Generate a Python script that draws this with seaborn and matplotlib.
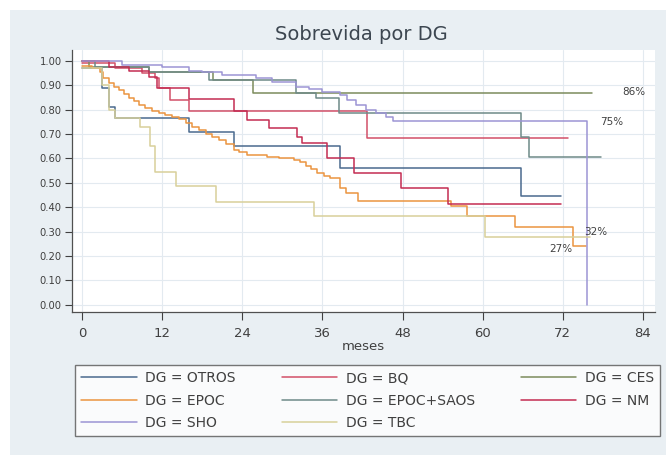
import pandas as pd
import matplotlib.pyplot as plt
import seaborn as sns
from matplotlib.lines import Line2D
from matplotlib.patches import Rectangle

# Kaplan-Meier (escalones): meses / sobrevida
otros_t = [0, 3, 4, 5, 16, 22.7, 38.7, 65.7, 71.7]
otros_s = [0.97, 0.89, 0.81, 0.765, 0.71, 0.65, 0.56, 0.444, 0.444]

bq_t = [0, 5, 9, 11, 11.5, 13.2, 16, 42.7, 72.7]
bq_s = [0.99, 0.97, 0.95, 0.93, 0.888, 0.84, 0.795, 0.683, 0.683]

ces_t = [0, 1, 10, 19.6, 25.6, 76.4]
ces_s = [1.0, 0.975, 0.955, 0.922, 0.867, 0.867]

epoc_t = [0, 1.5, 2.7, 3.2, 4, 4.8, 5.5, 6.3, 7, 7.8, 8.6, 9.5, 10.5, 11.5,
          12.5, 13.5, 14.5, 15.5, 16.5, 17.5, 18.5, 19.5, 20.5, 21.5, 22.7,
          23.5, 24.7, 27.7, 29.5, 31.7, 32.7, 33.5, 34.3, 35.2, 36.2, 37.2,
          38.7, 39.6, 41.4, 55.3, 57.7, 64.8, 73.5, 75.5]
epoc_s = [0.98, 0.97, 0.955, 0.93, 0.91, 0.895, 0.88, 0.865, 0.85, 0.835,
          0.82, 0.805, 0.795, 0.785, 0.78, 0.77, 0.76, 0.745, 0.73, 0.715,
          0.70, 0.69, 0.675, 0.66, 0.635, 0.625, 0.615, 0.608, 0.60, 0.595,
          0.585, 0.57, 0.555, 0.54, 0.53, 0.52, 0.478, 0.458, 0.424, 0.406,
          0.362, 0.32, 0.24, 0.24]

saos_t = [0, 2, 10, 19, 32, 35, 38.5, 65.7, 67, 77.7]
saos_s = [1.0, 0.975, 0.955, 0.92, 0.868, 0.847, 0.785, 0.69, 0.605, 0.605]

nm_t = [0, 4, 7, 10, 11.2, 16, 22.7, 24.7, 28, 32.2, 33, 36.7, 40.8, 47.8,
        54.8, 71.7]
nm_s = [1.0, 0.975, 0.96, 0.935, 0.888, 0.843, 0.796, 0.758, 0.724, 0.69,
        0.663, 0.60, 0.54, 0.478, 0.412, 0.412]

sho_t = [0, 6, 12, 16, 18, 21, 26, 28.5, 32, 34, 36, 38.7, 39.7, 41, 42.5,
         44, 45.5, 46.5, 75.6]
sho_s = [1.0, 0.985, 0.975, 0.96, 0.955, 0.943, 0.93, 0.915, 0.895, 0.885,
         0.874, 0.86, 0.84, 0.82, 0.80, 0.785, 0.77, 0.755, 0.0]

tbc_t = [0, 3, 4, 5, 8.7, 10.2, 11, 14, 20, 34.7, 60.3, 76]
tbc_s = [0.97, 0.90, 0.80, 0.765, 0.728, 0.652, 0.546, 0.485, 0.42, 0.365,
         0.276, 0.276]

grupos = ["OTROS", "BQ", "CES", "EPOC", "EPOC+SAOS", "NM", "SHO", "TBC"]
colores = ["#4a6a8e", "#d25068", "#7c8c5c", "#eb9440", "#6e8a88", "#c42c52",
           "#9c94d4", "#d8d09a"]

datos = [(otros_t, otros_s), (bq_t, bq_s), (ces_t, ces_s), (epoc_t, epoc_s),
         (saos_t, saos_s), (nm_t, nm_s), (sho_t, sho_s), (tbc_t, tbc_s)]

df = pd.concat([pd.DataFrame({"meses": t, "sobrevida": s, "DG": "DG = " + g})
                for g, (t, s) in zip(grupos, datos)], ignore_index=True)
paleta = {"DG = " + g: c for g, c in zip(grupos, colores)}

# etiquetas de % al final de algunas curvas
pct_txt = ["86%", "75%", "32%", "27%"]
pct_x = [82.7, 79.3, 76.9, 71.7]
pct_y = [0.874, 0.75, 0.30, 0.228]

sns.set_style("white")
plt.rcParams["font.family"] = ["DejaVu Sans"]

fig = plt.figure(figsize=(6.66, 4.55), dpi=100)
fig.add_artist(Rectangle((10 / 666, 0), 1, 1 - 10 / 455, transform=fig.transFigure,
                         facecolor="#e9eff3", edgecolor="none", zorder=-10))
ax = fig.add_axes([72 / 666, 1 - 312 / 455, 583 / 666, 262 / 455])
ax.set_facecolor("white")

sns.lineplot(data=df, x="meses", y="sobrevida", hue="DG", palette=paleta,
             estimator=None, drawstyle="steps-post", linewidth=1.1,
             legend=False, ax=ax)

for txt, x, y in zip(pct_txt, pct_x, pct_y):
    ax.text(x, y, txt, fontsize=7.5, color="#404040", ha="center", va="center")

ax.set_xlim(-1.5, 85.8)
ax.set_ylim(-0.03, 1.045)
ax.set_xticks(range(0, 85, 12))
ax.set_yticks([i / 10 for i in range(11)])
ax.set_yticklabels(["%.2f" % (i / 10) for i in range(11)])
ax.grid(True, color="#e3eaf0", linewidth=0.8)
ax.tick_params(axis="y", labelsize=7.2, length=5, width=0.8, colors="#404040",
               direction="out", left=True, pad=2.5)
ax.tick_params(axis="x", labelsize=9.5, length=6, width=0.8, colors="#404040",
               direction="out", bottom=True, pad=4.5)
for lado in ["top", "right"]:
    ax.spines[lado].set_visible(False)
for lado in ["left", "bottom"]:
    ax.spines[lado].set_color("#505050")
    ax.spines[lado].set_linewidth(0.9)
ax.set_xlabel("meses", fontsize=9.5, color="#404040", labelpad=0)
ax.set_ylabel("")
fig.text(361 / 666, 1 - 35 / 455, "Sobrevida por DG", fontsize=14,
         color="#3c4650", ha="center", va="center")

# leyenda en orden por filas (3 columnas)
orden = [0, 3, 6, 1, 4, 7, 2, 5]
handles = [Line2D([], [], color=colores[i], linewidth=1.1) for i in orden]
labels = ["DG = " + grupos[i] for i in orden]
leg = fig.legend(handles, labels, ncol=3, loc="upper left", mode="expand",
                 bbox_to_anchor=(75 / 666, 17 / 455, 585 / 666, 73 / 455),
                 fontsize=10, handlelength=4.0, frameon=True, fancybox=False,
                 edgecolor="#555555", borderaxespad=0, labelspacing=0.6,
                 handletextpad=0.6, borderpad=0.45)
leg.get_frame().set_linewidth(1.0)
for t in leg.get_texts():
    t.set_color("#404040")

fig.savefig("out.png", dpi=100)
